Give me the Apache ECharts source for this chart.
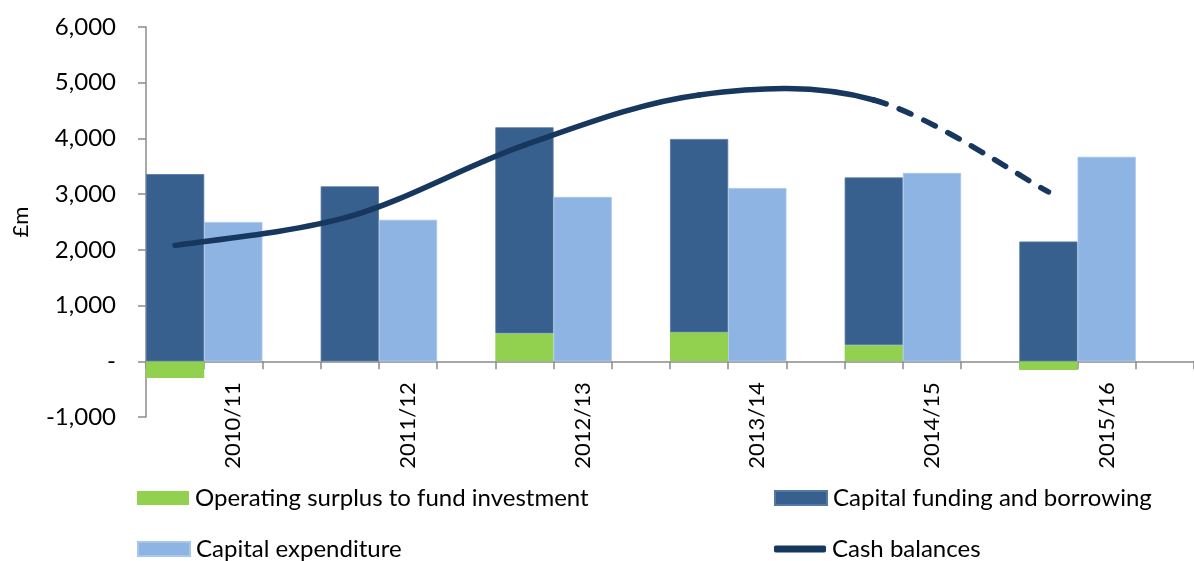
<!DOCTYPE html>
<html>
<head>
<meta charset="utf-8">
<script src="https://cdn.jsdelivr.net/npm/echarts@6/dist/echarts.min.js"></script>
<style>
html,body{margin:0;padding:0;background:#fff;}
#chart{width:1194px;height:561px;}
</style>
</head>
<body>
<div id="chart"></div>
<script>
// ---- data ----
const categories = ['2010/11', '2011/12', '2012/13', '2013/14', '2014/15', '2015/16'];
const operatingSurplus = [-300, null, 500, 520, 290, -155];
const capitalFunding = [3360, 3140, 3700, 3470, 3010, 2150];
const capitalExpenditure = [2500, 2540, 2950, 3110, 3380, 3670];
const cashBalances = [2080, 2600, 3880, 4780, 4690, 3040];
const yMin = -1000, yMax = 6000, yStep = 1000;
const forecastFrom = 4; // segments starting at this point onwards are dashed (forecast)

// ---- build 3 slots per year: [funding stack, expenditure, gap] ----
const SLOTS = 3;
const slotLabels = [], greenData = [], darkData = [], lightData = [];
categories.forEach((c, i) => {
  for (let s = 0; s < SLOTS; s++) {
    slotLabels.push(s === 1 ? c : '');
    greenData.push(s === 0 ? operatingSurplus[i] : null);
    darkData.push(s === 0 ? capitalFunding[i] : null);
    lightData.push(s === 1 ? capitalExpenditure[i] : null);
  }
});
// line points sit on each year's first slot (category index)
const lineData = cashBalances.map((v, i) => [i * SLOTS, v]);

const FONT = 'Lato';
const LINE = '#17375E';
const axisGrey = '#8c8c8c';
const W = 1194, H = 561;
const GRID = {left: 146, right: -9, top: 27, bottom: 144};
const plotH = H - GRID.top - GRID.bottom;
const zeroOffset = -plotH * (0 - yMin) / (yMax - yMin);

// Spreadsheet-style smoothed line: cubic bezier per segment (Catmull-Rom, 1/6 tangents)
function renderCash(params, api) {
  const i = params.dataIndex;
  if (i >= lineData.length - 1) return null;
  const P = lineData.map(d => api.coord(d));
  const p0 = P[Math.max(i - 1, 0)], p1 = P[i], p2 = P[i + 1], p3 = P[Math.min(i + 2, P.length - 1)];
  const k = 1 / 6;
  const dashed = i >= forecastFrom;
  return {
    type: 'bezierCurve',
    shape: {
      x1: p1[0], y1: p1[1], x2: p2[0], y2: p2[1],
      cpx1: p1[0] + (p2[0] - p0[0]) * k, cpy1: p1[1] + (p2[1] - p0[1]) * k,
      cpx2: p2[0] - (p3[0] - p1[0]) * k, cpy2: p2[1] - (p3[1] - p1[1]) * k
    },
    style: {
      fill: null, stroke: LINE, lineWidth: 5.5, lineCap: 'round', lineJoin: 'round',
      lineDash: dashed ? [13, 14] : null
    }
  };
}

const chart = echarts.init(document.getElementById('chart'), null, {renderer: 'canvas'});
const legendBase = {
  orient: 'horizontal', padding: 0, itemGap: 0,
  itemWidth: 52, itemHeight: 14,
  textStyle: {fontFamily: FONT, fontSize: 24, color: '#000', padding: [0, 0, 0, 1]},
  selectedMode: false
};
chart.setOption({
  animation: false,
  textStyle: {fontFamily: FONT},
  grid: {left: GRID.left, right: GRID.right, top: GRID.top, bottom: GRID.bottom, containLabel: false},
  xAxis: {
    type: 'category',
    data: slotLabels,
    position: 'bottom',
    offset: zeroOffset,
    axisLine: {onZero: false, lineStyle: {color: axisGrey, width: 1.5}},
    axisTick: {show: true, interval: 0, length: 8, lineStyle: {color: axisGrey, width: 1.5}},
    axisLabel: {interval: 0, rotate: 90, margin: 21, fontFamily: FONT, fontSize: 22, color: '#000'},
    splitLine: {show: false}
  },
  yAxis: {
    type: 'value',
    min: yMin, max: yMax, interval: yStep,
    name: '£m', nameLocation: 'middle', nameGap: 114, nameRotate: 90,
    nameTextStyle: {fontFamily: FONT, fontSize: 22, color: '#000'},
    axisLine: {show: true, onZero: false, lineStyle: {color: axisGrey, width: 1.5}},
    axisTick: {show: true, length: 8, lineStyle: {color: axisGrey, width: 1.5}},
    axisLabel: {
      margin: 30, fontFamily: FONT, fontSize: 24, color: '#000',
      formatter: v => v === 0 ? '-' : v.toLocaleString('en-GB')
    },
    splitLine: {show: false}
  },
  legend: [
    Object.assign({}, legendBase, {left: 137, top: 486, data: [{name: 'Operating surplus to fund investment', icon: 'rect'}]}),
    Object.assign({}, legendBase, {left: 774, top: 486, data: [{name: 'Capital funding and borrowing', icon: 'rect'}]}),
    Object.assign({}, legendBase, {left: 137, top: 537, data: [{name: 'Capital expenditure', icon: 'rect'}]}),
    Object.assign({}, legendBase, {left: 774, top: 537, itemHeight: 7,
      data: [{name: 'Cash balances', icon: 'roundRect', itemStyle: {color: LINE}}]})
  ],
  series: [
    {name: 'Operating surplus to fund investment', type: 'bar', stack: 'all', data: greenData,
     barWidth: '100%', itemStyle: {color: '#92D050'}},
    {name: 'Capital funding and borrowing', type: 'bar', stack: 'all', data: darkData,
     barWidth: '100%', itemStyle: {color: '#37608F', borderColor: '#5678a3', borderWidth: 0.8}},
    {name: 'Capital expenditure', type: 'bar', stack: 'all', data: lightData,
     barWidth: '100%', itemStyle: {color: '#8EB4E3', borderColor: '#a9c6ea', borderWidth: 0.8}},
    {name: 'Cash balances', type: 'custom', data: lineData, renderItem: renderCash, z: 5,
     encode: {x: 0, y: 1}, itemStyle: {color: LINE}, clip: false}
  ]
});
</script>
</body>
</html>
